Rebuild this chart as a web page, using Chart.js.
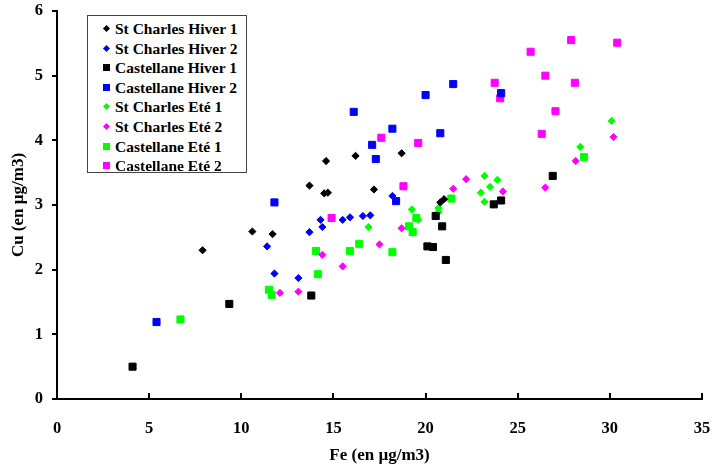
<!DOCTYPE html>
<html>
<head>
<meta charset="utf-8">
<script src="https://cdn.jsdelivr.net/npm/chart.js@4.4.0/dist/chart.umd.min.js"></script>
<style>
  html, body { margin: 0; padding: 0; background: #fff; }
  #wrap { position: relative; width: 712px; height: 472px; }
  #legend {
    position: absolute; left: 87px; top: 15px; width: 160px; height: 158px;
    border: 1px solid #444; background: #fff;
    font: bold 15.5px "Liberation Serif", "Times New Roman", serif; color: #000;
    padding-top: 3px; box-sizing: border-box;
  }
  .row { position: relative; height: 19.6px; line-height: 19.6px; padding-left: 27px; white-space: nowrap; }
  .mk { position: absolute; left: 15px; top: 6px; width: 7px; height: 7px; }
  .mk.dia { width: 5px; height: 5px; left: 16px; top: 7px; transform: rotate(45deg); }
</style>
</head>
<body>
<div id="wrap">
  <canvas id="c" width="712" height="472"></canvas>
  <div id="legend"></div>
</div>
<script>
// [Fe, Cu] pairs
const stCharlesHiver1 = [[7.9,2.30],[10.6,2.59],[11.7,2.55],[13.7,3.30],[14.5,3.18],[14.7,3.19],[14.6,3.68],[16.2,3.76],[17.2,3.24],[18.7,3.80],[20.8,3.04],[21.0,3.09]];
const stCharlesHiver2 = [[11.4,2.36],[11.8,1.94],[13.1,1.87],[13.7,2.58],[14.3,2.77],[14.4,2.66],[15.5,2.77],[15.9,2.81],[16.6,2.83],[17.0,2.84],[18.2,3.14]];
const castellaneHiver1 = [[4.1,0.50],[9.35,1.47],[13.8,1.60],[20.1,2.36],[20.4,2.35],[20.55,2.83],[20.9,2.67],[21.1,2.15],[23.7,3.01],[24.1,3.07],[26.9,3.45]];
const castellaneHiver2 = [[5.4,1.19],[11.8,3.04],[16.1,4.44],[17.1,3.93],[17.3,3.71],[18.2,4.18],[18.4,3.06],[20.0,4.70],[20.8,4.11],[21.5,4.87],[24.1,4.73]];
const stCharlesEte1 = [[16.9,2.66],[19.25,2.93],[19.6,2.77],[20.7,2.95],[20.7,2.89],[23.0,3.19],[23.2,3.45],[23.2,3.05],[23.5,3.28],[23.9,3.39],[28.4,3.90],[30.1,4.30]];
const stCharlesEte2 = [[12.1,1.64],[13.1,1.66],[14.4,2.23],[15.5,2.05],[17.5,2.39],[18.7,2.64],[21.5,3.25],[22.2,3.40],[24.2,3.21],[26.5,3.27],[28.15,3.68],[30.2,4.05]];
const castellaneEte1 = [[6.7,1.23],[11.5,1.69],[11.65,1.61],[14.05,2.29],[14.15,1.93],[15.9,2.29],[16.4,2.40],[18.2,2.27],[19.1,2.67],[19.3,2.58],[19.5,2.80],[21.4,3.10],[28.6,3.74]];
const castellaneEte2 = [[14.9,2.80],[17.6,4.04],[18.8,3.29],[19.6,3.96],[23.75,4.89],[24.05,4.65],[25.7,5.37],[26.3,4.10],[26.5,5.00],[27.05,4.45],[27.9,5.55],[28.1,4.89],[30.4,5.51]];

const seriesNames = ['St Charles Hiver 1','St Charles Hiver 2','Castellane Hiver 1','Castellane Hiver 2','St Charles Eté 1','St Charles Eté 2','Castellane Eté 1','Castellane Eté 2'];
const seriesData = [stCharlesHiver1, stCharlesHiver2, castellaneHiver1, castellaneHiver2, stCharlesEte1, stCharlesEte2, castellaneEte1, castellaneEte2];
const seriesColors = ['#000000','#0000ff','#000000','#0000ff','#00ff00','#ff00ff','#00ff00','#ff00ff'];
const seriesShapes = ['rectRot','rectRot','rect','rect','rectRot','rectRot','rect','rect'];

const xTicks = [0,5,10,15,20,25,30,35];
const yTicks = [0,1,2,3,4,5,6];

const FONT = '"Liberation Serif", "Times New Roman", serif';

const datasets = seriesNames.map((name, i) => ({
  label: name,
  data: seriesData[i].map(p => ({ x: p[0], y: p[1] })),
  pointStyle: seriesShapes[i],
  pointRadius: seriesShapes[i] === 'rect' ? 5 : 3.6,
  pointBackgroundColor: seriesColors[i],
  pointBorderColor: seriesColors[i],
  pointBorderWidth: 1,
  showLine: false
}));

// x-axis tick marks point up into the plot
const innerTicks = {
  id: 'innerTicks',
  afterDraw(chart) {
    const { ctx, scales: { x }, chartArea } = chart;
    ctx.save();
    ctx.strokeStyle = '#000';
    ctx.lineWidth = 2;
    xTicks.forEach(v => {
      const px = Math.round(x.getPixelForValue(v));
      ctx.beginPath();
      ctx.moveTo(px, chartArea.bottom);
      ctx.lineTo(px, chartArea.bottom - 6);
      ctx.stroke();
    });
    ctx.restore();
  }
};

new Chart(document.getElementById('c'), {
  type: 'scatter',
  data: { datasets },
  options: {
    responsive: false,
    animation: false,
    layout: { padding: { top: 11, right: 0, left: 0, bottom: 0 } },
    plugins: { legend: { display: false }, tooltip: { enabled: false } },
    scales: {
      x: {
        type: 'linear', min: 0, max: 35,
        afterBuildTicks: s => { s.ticks = xTicks.map(v => ({ value: v })); },
        afterFit: s => { s.height = 73; s.paddingRight = 10; },
        grid: { display: false },
        border: { color: '#000', width: 2 },
        ticks: { color: '#000', padding: 12, font: { family: FONT, size: 16.5, weight: 'bold' } },
        title: { display: true, text: 'Fe (en µg/m3)', color: '#000', padding: { top: 0, bottom: 6 },
                 font: { family: FONT, size: 17, weight: 'bold' } }
      },
      y: {
        type: 'linear', min: 0, max: 6,
        afterBuildTicks: s => { s.ticks = yTicks.map(v => ({ value: v })); },
        afterFit: s => { s.width = 57; s.paddingTop = 0; },
        grid: { drawOnChartArea: false, drawTicks: true, tickLength: 5, color: '#000', lineWidth: 2 },
        border: { color: '#000', width: 2 },
        ticks: { color: '#000', padding: 9, font: { family: FONT, size: 16.5, weight: 'bold' } },
        title: { display: true, text: 'Cu (en µg/m3)', color: '#000', padding: { top: 8, bottom: 0 },
                 font: { family: FONT, size: 17, weight: 'bold' } }
      }
    }
  },
  plugins: [innerTicks]
});

// legend box
const legend = document.getElementById('legend');
seriesNames.forEach((name, i) => {
  const row = document.createElement('div');
  row.className = 'row';
  const mk = document.createElement('span');
  mk.className = 'mk' + (seriesShapes[i] === 'rectRot' ? ' dia' : '');
  mk.style.background = seriesColors[i];
  row.appendChild(mk);
  row.appendChild(document.createTextNode(name));
  legend.appendChild(row);
});
</script>
</body>
</html>
